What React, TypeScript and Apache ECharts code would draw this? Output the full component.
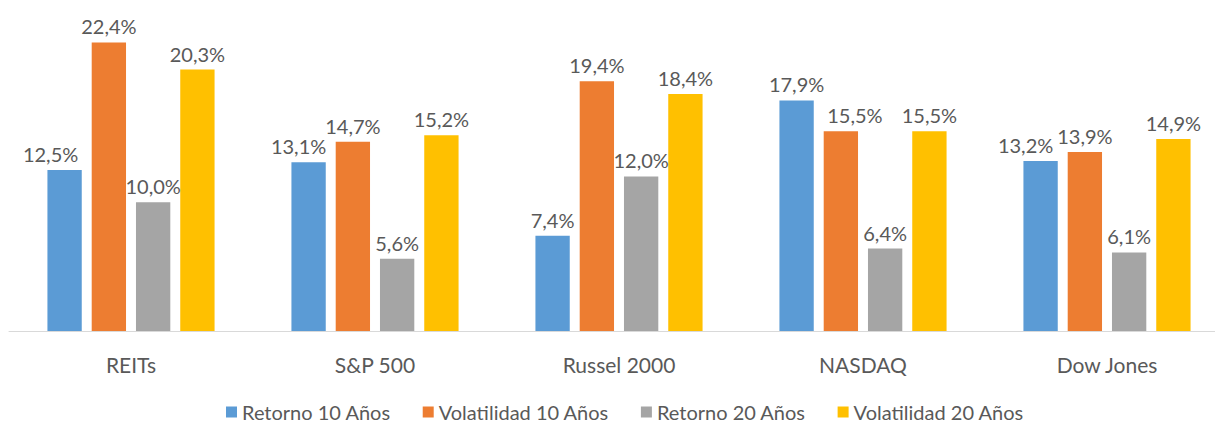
import React, { useEffect, useRef } from "react";
import * as echarts from "echarts";

const categories = ["REITs", "S&P 500", "Russel 2000", "NASDAQ", "Dow Jones"];
const seriesNames = ["Retorno 10 Años", "Volatilidad 10 Años", "Retorno 20 Años", "Volatilidad 20 Años"];
const retorno10 = [12.5, 13.1, 7.4, 17.9, 13.2];
const volatilidad10 = [22.4, 14.7, 19.4, 15.5, 13.9];
const retorno20 = [10.0, 5.6, 12.0, 6.4, 6.1];
const volatilidad20 = [20.3, 15.2, 18.4, 15.5, 14.9];
const colors = ["#5B9BD5", "#ED7D31", "#A5A5A5", "#FFC000"];

// horizontal nudges of some data labels (as in the original, to avoid collisions)
const labelNudge: Record<string, number> = {
  "0-0": -14,
  "0-1": -10,
  "1-3": 14,
  "0-4": -15,
};

const FONT = "Lato";
const TXT = "#595959";

export default function App() {
  const ref = useRef<HTMLDivElement>(null);
  useEffect(() => {
    if (!ref.current) return;
    const chart = echarts.init(ref.current, null, { renderer: "svg" });
    const data = [retorno10, volatilidad10, retorno20, volatilidad20];
    chart.setOption({
      animation: false,
      color: colors,
      grid: {
        left: 9,
        width: 1220,
        top: 9,
        bottom: 92,
        containLabel: false,
        outerBoundsMode: "none",
      },
      legend: {
        top: 402,
        left: 226,
        padding: 0,
        itemWidth: 11,
        itemHeight: 11,
        itemGap: 32,
        icon: "rect",
        textStyle: { fontFamily: FONT, fontSize: 20, color: TXT },
        data: seriesNames,
      },
      xAxis: {
        type: "category",
        data: categories,
        axisLine: { lineStyle: { color: "#D9D9D9", width: 1 } },
        axisTick: { show: false },
        axisLabel: { fontFamily: FONT, fontSize: 21, color: TXT, margin: 23 },
      },
      yAxis: {
        type: "value",
        min: 0,
        max: 25,
        show: false,
        splitLine: { show: false },
      },
      series: seriesNames.map((name, i) => ({
        name,
        type: "bar",
        data: data[i].map((v, j) => {
          const nudge = labelNudge[`${i}-${j}`];
          return nudge ? { value: v, label: { offset: [nudge, 0] } } : v;
        }),
        barGap: "29%",
        barCategoryGap: "31.5%",
        itemStyle: { color: colors[i] },
        label: {
          show: true,
          position: "top",
          distance: 6,
          fontFamily: FONT,
          fontSize: 20,
          color: TXT,
          formatter: (p: any) => p.value.toFixed(1).replace(".", ",") + "%",
        },
      })),
    });
    return () => chart.dispose();
  }, []);
  return (
    <div
      ref={ref}
      style={{ position: "fixed", left: 0, top: 0, width: 1215, height: 423, background: "#fff" }}
    />
  );
}
